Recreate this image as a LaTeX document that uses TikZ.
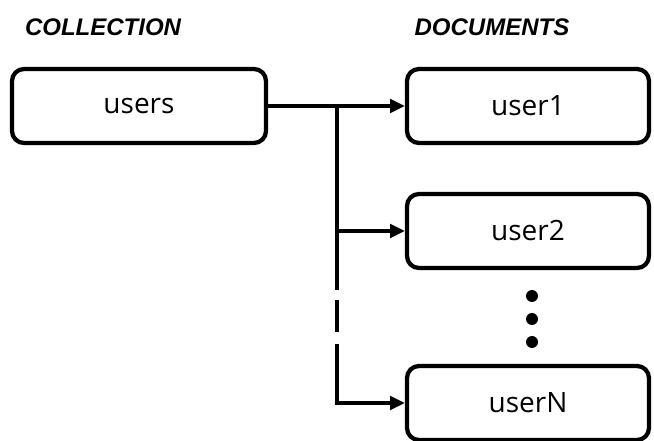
\documentclass[tikz,border=0pt]{standalone}
\usepackage{fontspec}
\setmainfont{Open Sans}
\newfontfamily\headfont{Liberation Sans}
\usetikzlibrary{arrows.meta}

\begin{document}
\begin{tikzpicture}[x=0.75pt,y=-0.75pt,
    docbox/.style={draw,line width=3.2pt,rounded corners=9pt,minimum width=242pt*0.75,minimum height=74pt*0.75,font=\fontsize{21}{24}\selectfont},
    head/.style={font=\headfont\bfseries\itshape\fontsize{18}{20}\selectfont},
    link/.style={line width=3.7pt,-{Triangle[length=11pt,width=10pt]}},
    bar/.style={line width=3.7pt}]
    \useasboundingbox (0,0) rectangle (654,441);

    \node (colhead) [head] at (103,27) {COLLECTION};
    \node (dochead) [head] at (492,27) {DOCUMENTS};

    \node (users) [docbox,minimum width=254pt*0.75] at (139,106) {users};
    \node (user1) [docbox] at (528,106) {user1};
    \node (user2) [docbox] at (528,231) {user2};
    \node (userN) [docbox] at (528,403) {userN};

    \foreach \y in {296,319,342}
        \fill (532,\y) circle (4.5pt);

    \coordinate (split) at (337,106);
    \coordinate (gapA) at (337,290);
    \coordinate (dashA) at (337,300);
    \coordinate (dashB) at (337,332);
    \coordinate (gapB) at (337,344);

    \draw[link] (users) -- (user1);
    \draw[bar] (split) -- (gapA);
    \draw[bar] (dashA) -- (dashB);
    \draw[link] (split |- user2.west) -- (user2.west);
    \draw[link] (gapB) |- (userN.west);
\end{tikzpicture}
\end{document}
